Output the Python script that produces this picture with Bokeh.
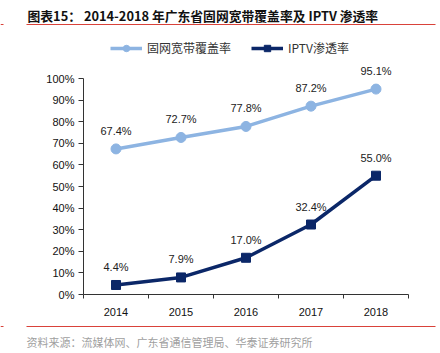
from bokeh.plotting import figure
from bokeh.models import (ColumnDataSource, FixedTicker, NumeralTickFormatter, Label,
                          BoxAnnotation, Legend, LegendItem, Range1d)
from bokeh.core.properties import value
from bokeh.embed import file_html
from bokeh.resources import INLINE

years = ["2014", "2015", "2016", "2017", "2018"]
broadband = [0.674, 0.727, 0.778, 0.872, 0.951]
iptv = [0.044, 0.079, 0.170, 0.324, 0.550]
series_names = ["固网宽带覆盖率", "IPTV渗透率"]
title_text = "图表15：  2014-2018 年广东省固网宽带覆盖率及 IPTV 渗透率"
source_text = "资料来源：流媒体网、广东省通信管理局、华泰证券研究所"

LIGHT = "#8DB4E2"
DARK = "#0B2768"
LATIN = "Liberation Sans"
CJK = "Noto Sans CJK SC"

W, H = 440, 353
# plot area in canvas pixels
FL, FR, FT, FB = 83, 408, 78, 294
n = len(years)
xppu = (FR - FL) / n
yppu = (FB - FT) / 1.0

xs = [i + 0.5 for i in range(n)]
src = ColumnDataSource(dict(
    x=xs, bb=broadband, iptv=iptv,
    bb_lab=[f"{v*100:.1f}%" for v in broadband],
    iptv_lab=[f"{v*100:.1f}%" for v in iptv],
))

p = figure(width=W, height=H, output_backend="svg", toolbar_location=None,
           x_range=Range1d(-FL / xppu, n + (W - FR) / xppu),
           y_range=Range1d(-(H - FB) / yppu, 1 + FT / yppu),
           min_border=0)
p.outline_line_color = None
p.grid.grid_line_color = None
p.background_fill_color = "white"
p.border_fill_color = "white"

# axes
p.xaxis.fixed_location = 0
p.xaxis.bounds = (0, n)
p.xaxis.ticker = FixedTicker(ticks=xs, minor_ticks=list(range(n + 1)))
p.xaxis.major_label_overrides = {x: y for x, y in zip(xs, years)}
p.xaxis.major_tick_line_color = None
p.xaxis.minor_tick_line_color = "#333333"
p.xaxis.minor_tick_out = 4
p.xaxis.minor_tick_in = 0
p.xaxis.axis_line_color = "#333333"
p.xaxis.major_label_text_font = LATIN
p.xaxis.major_label_text_font_size = "11px"
p.xaxis.major_label_text_color = "#111111"
p.xaxis.major_label_standoff = 7

p.yaxis.fixed_location = 0
p.yaxis.bounds = (0, 1)
p.yaxis.ticker = FixedTicker(ticks=[i / 10 for i in range(11)])
p.yaxis.formatter = NumeralTickFormatter(format="0%")
p.yaxis.major_tick_out = 5
p.yaxis.major_tick_in = 0
p.yaxis.minor_tick_line_color = None
p.yaxis.axis_line_color = "#333333"
p.yaxis.major_tick_line_color = "#333333"
p.yaxis.major_label_text_font = LATIN
p.yaxis.major_label_text_font_size = "11px"
p.yaxis.major_label_text_color = "#111111"
p.yaxis.major_label_standoff = 4

# series
l1 = p.line("x", "bb", source=src, line_color=LIGHT, line_width=3.5)
m1 = p.scatter("x", "bb", source=src, marker="circle", size=10, fill_color=LIGHT, line_color=LIGHT)
l2 = p.line("x", "iptv", source=src, line_color=DARK, line_width=3.5)
m2 = p.scatter("x", "iptv", source=src, marker="square", size=9, fill_color=DARK, line_color=DARK)

for col, lab in (("bb", "bb_lab"), ("iptv", "iptv_lab")):
    p.text("x", col, text=lab, source=src, y_offset=-18, text_align="center",
           text_baseline="middle", text_font=value(LATIN), text_font_size="11px",
           text_color="#222222")

legend = Legend(items=[LegendItem(label=series_names[0], renderers=[l1, m1]),
                       LegendItem(label=series_names[1], renderers=[l2, m2])],
                location=(110, H - 56), orientation="horizontal",
                glyph_width=32, glyph_height=16, label_standoff=5, spacing=20,
                padding=0, margin=0, border_line_color=None,
                background_fill_alpha=0, label_text_font=CJK,
                label_text_font_size="12px", label_text_color="#333333",
                label_height=16)
p.add_layout(legend, "center")

# title and source
p.add_layout(Label(x=27, y=15, x_units="canvas", y_units="canvas", text=title_text,
                   text_font=CJK, text_font_style="bold", text_font_size="12.8px",
                   text_color="#111111", text_baseline="middle"))
p.add_layout(Label(x=26, y=341, x_units="canvas", y_units="canvas", text=source_text,
                   text_font=CJK, text_font_size="11px", text_color="#A0A0A0",
                   text_baseline="middle"))
for left, right in ((26, 435), (0, 3)):
    for top in (24, 326):
        p.add_layout(BoxAnnotation(left=left, right=right, top=top - 0.6, bottom=top + 0.6,
                                   left_units="canvas", right_units="canvas",
                                   top_units="canvas", bottom_units="canvas",
                                   fill_color="#D9423A", fill_alpha=1, line_color=None))

open("out.html", "w").write(file_html(p, INLINE))
